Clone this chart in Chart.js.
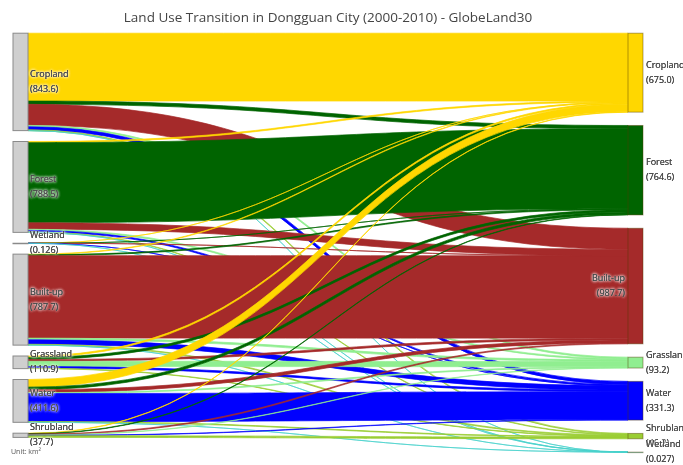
<!DOCTYPE html>
<html lang="en">
<head>
<meta charset="UTF-8">
<title>Land Use Transition - Dongguan</title>
<script src="https://cdn.jsdelivr.net/npm/chart.js"></script>
<style>
  html, body { margin: 0; padding: 0; background: #fff; }
  #wrap { width: 683px; height: 465px; position: relative; }
</style>
</head>
<body>
<div id="wrap"><canvas id="sankey"></canvas></div>
<script>
// clases y superficies (km²)
const clases2000 = ['Cropland', 'Forest', 'Wetland', 'Built-up', 'Grassland', 'Water', 'Shrubland'];
const area2000 = ['843.6', '788.5', '0.126', '787.7', '110.9', '411.6', '37.7'];
const clases2010 = ['Cropland', 'Forest', 'Built-up', 'Grassland', 'Water', 'Shrubland', 'Wetland'];
const area2010 = ['675.0', '764.6', '987.7', '93.2', '331.3', '46.2', '0.027'];

// filas = 2000, columnas = 2010 (mismo orden que clases2010)
const flujoCropland  = [580, 28, 180, 12, 25, 8, 0.01];
const flujoForest    = [10, 685, 55, 10, 12, 5, 0.005];
const flujoWetland   = [0.03, 0.01, 0.05, 0, 0.03, 0, 0.005];
const flujoBuiltup   = [5, 8, 705, 15, 37, 8, 0.005];
const flujoGrassland = [12, 18, 15, 45, 14, 4, 0];
const flujoWater     = [65, 22, 25, 8, 240, 6, 0.01];
const flujoShrubland = [3, 4, 8, 3, 3, 15, 0];
const flujos = [flujoCropland, flujoForest, flujoWetland, flujoBuiltup, flujoGrassland, flujoWater, flujoShrubland];

const colores = {
  'Cropland': '#FFD700', 'Forest': '#006400', 'Built-up': '#A52A2A', 'Grassland': '#90EE90',
  'Water': '#0000FF', 'Shrubland': '#9ACD32', 'Wetland': '#48D1CC'
};

const ANCHO_NODO = 15;
const HUECO_IZQ = 93, HUECO_DER = 114;   // separación entre nodos (km²)
const Y_MAX = 3581;

function apilar(tamanos, hueco) {
  let y = 0;
  return tamanos.map(t => { const n = { y0: y, y1: y + t }; y += t + hueco; return n; });
}

function etiqueta(ctx, lineas, x, y, align) {
  ctx.save();
  ctx.font = '9px "Open Sans", sans-serif';
  ctx.textAlign = align;
  ctx.textBaseline = 'middle';
  const alto = 15;
  lineas.forEach((t, i) => {
    const yy = y + (i - (lineas.length - 1) / 2) * alto;
    ctx.shadowColor = '#fff';
    ctx.shadowBlur = 3;
    ctx.fillStyle = '#444';
    for (let k = 0; k < 3; k++) ctx.fillText(t, x, yy);
  });
  ctx.restore();
}

const sankeyPlugin = {
  id: 'sankey',
  afterDatasetsDraw(chart) {
    const { ctx, scales: { x, y } } = chart;
    const salidas = flujos.map(f => f.reduce((a, b) => a + b, 0));
    const entradas = clases2010.map((_, j) => flujos.reduce((a, f) => a + f[j], 0));
    const izq = apilar(salidas, HUECO_IZQ);
    const der = apilar(entradas, HUECO_DER);

    const xL = x.getPixelForValue(0), xR = x.getPixelForValue(1);
    const x0 = xL + ANCHO_NODO, x1 = xR - ANCHO_NODO, xm = (x0 + x1) / 2;

    // desplazamientos dentro de cada nodo
    const offIzq = izq.map(n => n.y0);
    const offDer = der.map(n => n.y0);
    const enlaces = [];
    flujos.forEach((fila, i) => fila.forEach((v, j) => {
      if (v <= 0) return;
      enlaces.push({ i, j, v, s0: offIzq[i] });
      offIzq[i] += v;
    }));
    clases2010.forEach((_, j) => flujos.forEach((fila, i) => {
      const e = enlaces.find(l => l.i === i && l.j === j);
      if (e) { e.t0 = offDer[j]; offDer[j] += e.v; }
    }));

    ctx.save();
    enlaces.forEach(e => {
      const sy0 = y.getPixelForValue(e.s0), sy1 = y.getPixelForValue(e.s0 + e.v);
      const ty0 = y.getPixelForValue(e.t0), ty1 = y.getPixelForValue(e.t0 + e.v);
      const col = colores[clases2010[e.j]];
      ctx.beginPath();
      ctx.moveTo(x0, sy0);
      ctx.bezierCurveTo(xm, sy0, xm, ty0, x1, ty0);
      ctx.lineTo(x1, ty1);
      ctx.bezierCurveTo(xm, ty1, xm, sy1, x0, sy1);
      ctx.closePath();
      ctx.fillStyle = col;
      ctx.fill();
      ctx.lineWidth = 0.7;
      ctx.strokeStyle = col;
      ctx.stroke();
    });

    // nodos
    izq.forEach(n => {
      const a = y.getPixelForValue(n.y0), b = y.getPixelForValue(n.y1);
      ctx.fillStyle = '#cfcfcf';
      ctx.strokeStyle = '#8a8a8a';
      ctx.lineWidth = 1;
      ctx.fillRect(xL, a, ANCHO_NODO, Math.max(b - a, 0.5));
      ctx.strokeRect(xL, a, ANCHO_NODO, Math.max(b - a, 0.5));
    });
    der.forEach((n, j) => {
      const a = y.getPixelForValue(n.y0), b = y.getPixelForValue(n.y1);
      ctx.fillStyle = colores[clases2010[j]];
      ctx.strokeStyle = 'rgba(80,60,0,0.45)';
      ctx.lineWidth = 1;
      ctx.fillRect(x1, a, ANCHO_NODO, Math.max(b - a, 0.5));
      ctx.strokeRect(x1, a, ANCHO_NODO, Math.max(b - a, 0.5));
    });
    ctx.restore();

    // etiquetas
    izq.forEach((n, i) => {
      const c = y.getPixelForValue((n.y0 + n.y1) / 2);
      etiqueta(ctx, [clases2000[i], '(' + area2000[i] + ')'], x0 + 2, c, 'left');
    });
    der.forEach((n, j) => {
      const c = y.getPixelForValue((n.y0 + n.y1) / 2);
      const txt = [clases2010[j], '(' + area2010[j] + ')'];
      if (clases2010[j] === 'Built-up') etiqueta(ctx, txt, x1 - 3, c, 'right');
      else etiqueta(ctx, txt, xR + 3, c, 'left');
    });

    ctx.save();
    ctx.font = '7px "Open Sans", sans-serif';
    ctx.fillStyle = '#555';
    ctx.textBaseline = 'middle';
    ctx.fillText('Unit: km²', 11, 452);
    ctx.restore();
  }
};

new Chart(document.getElementById('sankey'), {
  type: 'scatter',
  data: { datasets: [] },
  options: {
    responsive: true,
    maintainAspectRatio: false,
    animation: false,
    layout: { padding: { left: 13, right: 40, top: 1, bottom: 13 } },
    scales: {
      x: { type: 'linear', min: 0, max: 1, display: false },
      y: { type: 'linear', min: 0, max: Y_MAX, reverse: true, display: false }
    },
    plugins: {
      legend: { display: false },
      tooltip: { enabled: false },
      title: {
        display: true,
        text: 'Land Use Transition in Dongguan City (2000-2010) - GlobeLand30',
        color: '#444',
        font: { family: '"Open Sans", sans-serif', size: 13.5, weight: 'normal' },
        padding: { top: 9, bottom: 7 }
      }
    }
  },
  plugins: [sankeyPlugin]
});
</script>
</body>
</html>
